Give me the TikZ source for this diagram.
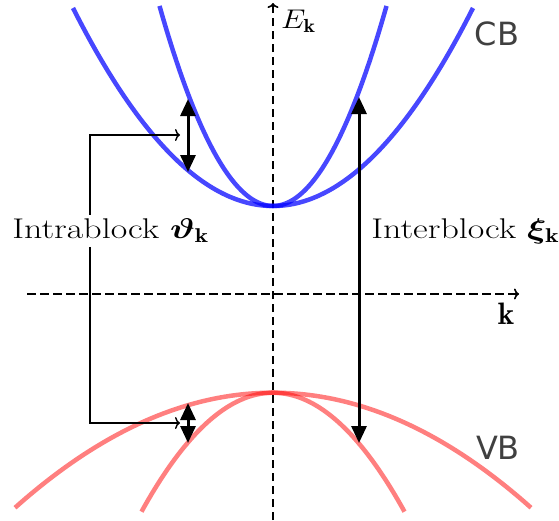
\RequirePackage{fix-cm}
\documentclass[tikz,border=0pt]{standalone}
\usepackage{fontspec}
\usepackage{bm}
\usetikzlibrary{arrows.meta}
\newfontfamily\labfont{DejaVu Sans}
\definecolor{labgray}{RGB}{64,64,64}
\begin{document}
\begin{tikzpicture}[x=1pt,y=-1pt,
  axis/.style={line width=1.6pt, dash pattern=on 8.5pt off 4.5pt, -{To[length=5pt,width=11pt]}},
  band/.style={line width=4.5pt},
  cband/.style={band, draw=blue, draw opacity=0.72},
  vband/.style={band, draw=red, draw opacity=0.5},
  trans/.style={line width=3pt, {Triangle[length=17pt,width=15pt]}-{Triangle[length=17pt,width=15pt]}},
  brack/.style={line width=1.4pt, -{To[length=5pt,width=12pt]}},
  serif/.style={font=\fontsize{28.5}{33}\selectfont, inner sep=4pt, transform shape},
  bandlab/.style={font=\labfont\fontsize{32}{38}\selectfont, text=labgray}
]
\useasboundingbox (0,0) rectangle (559,520);
% axes
\coordinate (ytop) at (273,3);
\coordinate (ybot) at (273,520);
\coordinate (xl) at (27,294);
\coordinate (xr) at (519,294);
\draw[axis] (ybot) -- (ytop);
\draw[axis] (xl) -- (xr);
% bands
\draw[cband] plot[domain=-200:200, samples=81, smooth] ({273+\x},{206-49.5*(\x/100)*(\x/100)});
\draw[cband] plot[domain=-113.5:113.5, samples=81, smooth] ({273+\x},{206-155.3*(\x/100)*(\x/100)});
\draw[vband] plot[domain=-258:258, samples=81, smooth] ({273+\x},{392.7+17.28*(\x/100)*(\x/100)});
\draw[vband] plot[domain=-131.5:131.5, samples=81, smooth] ({273+\x},{392.7+68.8*(\x/100)*(\x/100)});
% transitions
\coordinate (a1t) at (188,99);
\coordinate (a1b) at (188,172);
\coordinate (a2t) at (359,97);
\coordinate (a2b) at (359,443);
\coordinate (a3t) at (188,403);
\coordinate (a3b) at (188,443);
\draw[trans] (a1b) -- (a1t);
\draw[trans] (a2t) -- (a2b);
\draw[trans] (a3t) -- (a3b);
% labels
\begin{scope}[shift={(7,238.5)}, xscale=1.26]
  \node[serif, anchor=base west] (intra) at (0,0) {Intrablock $\bm{\vartheta}_{\mathbf{k}}$};
\end{scope}
\begin{scope}[shift={(366,238.5)}, xscale=1.26]
  \node[serif, anchor=base west] (inter) at (0,0) {Interblock $\bm{\xi}_{\mathbf{k}}$};
\end{scope}
\begin{scope}[shift={(281,28)}, xscale=1.15]
  \node[anchor=base west, inner sep=0pt, transform shape, font=\fontsize{27}{32}\selectfont] (Ek) at (0,0) {$E_{\mathbf{k}}$};
\end{scope}
\node[anchor=base, inner sep=0pt, font=\fontsize{31}{36}\selectfont] (klab) at (506,324) {$\mathbf{k}$};
\node[bandlab] (CB) at (497,34) {CB};
\node[bandlab] (VB) at (498,448) {VB};
% bracket
\coordinate (bt) at (180,135);
\coordinate (bb) at (180,423);
\coordinate (bx) at (90,0);
\draw[brack] (intra.north -| bx) |- (bt);
\draw[brack] (intra.south -| bx) |- (bb);
\end{tikzpicture}
\end{document}
